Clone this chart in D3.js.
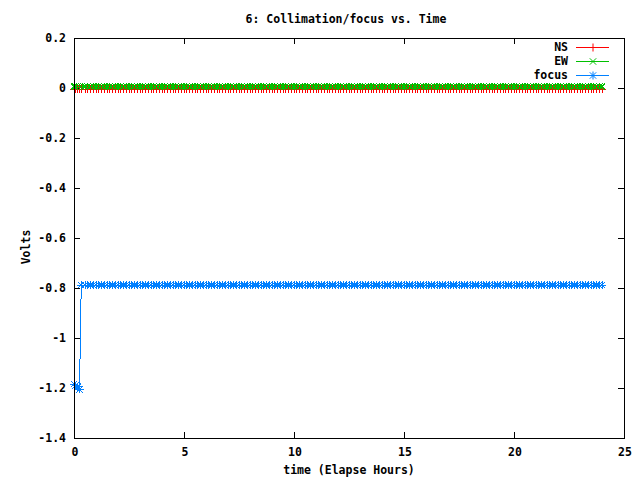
<!DOCTYPE html>
<html>
<head>
<meta charset="utf-8">
<script src="https://cdn.jsdelivr.net/npm/d3@7"></script>
<style>
  body { margin: 0; background: #fff; }
  svg { display: block; }
  text { font-family: "DejaVu Sans Mono", "Liberation Mono", monospace; font-weight: bold; font-size: 11.5px; fill: #000; }
</style>
</head>
<body>
<svg id="chart" width="640" height="480"></svg>
<script>
// elapsed time, hours
const times = [
  0, 0.08, 0.17, 0.25, 0.33, 0.5, 0.625, 0.75, 0.875,
  1, 1.125, 1.25, 1.375, 1.5, 1.625, 1.75, 1.875,
  2, 2.125, 2.25, 2.375, 2.5, 2.625, 2.75, 2.875,
  3, 3.125, 3.25, 3.375, 3.5, 3.625, 3.75, 3.875,
  4, 4.125, 4.25, 4.375, 4.5, 4.625, 4.75, 4.875,
  5, 5.125, 5.25, 5.375, 5.5, 5.625, 5.75, 5.875,
  6, 6.125, 6.25, 6.375, 6.5, 6.625, 6.75, 6.875,
  7, 7.125, 7.25, 7.375, 7.5, 7.625, 7.75, 7.875,
  8, 8.125, 8.25, 8.375, 8.5, 8.625, 8.75, 8.875,
  9, 9.125, 9.25, 9.375, 9.5, 9.625, 9.75, 9.875,
  10, 10.125, 10.25, 10.375, 10.5, 10.625, 10.75, 10.875,
  11, 11.125, 11.25, 11.375, 11.5, 11.625, 11.75, 11.875,
  12, 12.125, 12.25, 12.375, 12.5, 12.625, 12.75, 12.875,
  13, 13.125, 13.25, 13.375, 13.5, 13.625, 13.75, 13.875,
  14, 14.125, 14.25, 14.375, 14.5, 14.625, 14.75, 14.875,
  15, 15.125, 15.25, 15.375, 15.5, 15.625, 15.75, 15.875,
  16, 16.125, 16.25, 16.375, 16.5, 16.625, 16.75, 16.875,
  17, 17.125, 17.25, 17.375, 17.5, 17.625, 17.75, 17.875,
  18, 18.125, 18.25, 18.375, 18.5, 18.625, 18.75, 18.875,
  19, 19.125, 19.25, 19.375, 19.5, 19.625, 19.75, 19.875,
  20, 20.125, 20.25, 20.375, 20.5, 20.625, 20.75, 20.875,
  21, 21.125, 21.25, 21.375, 21.5, 21.625, 21.75, 21.875,
  22, 22.125, 22.25, 22.375, 22.5, 22.625, 22.75, 22.875,
  23, 23.125, 23.25, 23.375, 23.5, 23.625, 23.75, 23.875,
  24
];

const nsVolts = [
  -0.004, -0.004, -0.004, -0.004, -0.004, -0.004, -0.004, -0.004, -0.004,
  -0.004, -0.004, -0.004, -0.004, -0.004, -0.004, -0.004, -0.004,
  -0.004, -0.004, -0.004, -0.004, -0.004, -0.004, -0.004, -0.004,
  -0.004, -0.004, -0.004, -0.004, -0.004, -0.004, -0.004, -0.004,
  -0.004, -0.004, -0.004, -0.004, -0.004, -0.004, -0.004, -0.004,
  -0.004, -0.004, -0.004, -0.004, -0.004, -0.004, -0.004, -0.004,
  -0.004, -0.004, -0.004, -0.004, -0.004, -0.004, -0.004, -0.004,
  -0.004, -0.004, -0.004, -0.004, -0.004, -0.004, -0.004, -0.004,
  -0.004, -0.004, -0.004, -0.004, -0.004, -0.004, -0.004, -0.004,
  -0.004, -0.004, -0.004, -0.004, -0.004, -0.004, -0.004, -0.004,
  -0.004, -0.004, -0.004, -0.004, -0.004, -0.004, -0.004, -0.004,
  -0.004, -0.004, -0.004, -0.004, -0.004, -0.004, -0.004, -0.004,
  -0.004, -0.004, -0.004, -0.004, -0.004, -0.004, -0.004, -0.004,
  -0.004, -0.004, -0.004, -0.004, -0.004, -0.004, -0.004, -0.004,
  -0.004, -0.004, -0.004, -0.004, -0.004, -0.004, -0.004, -0.004,
  -0.004, -0.004, -0.004, -0.004, -0.004, -0.004, -0.004, -0.004,
  -0.004, -0.004, -0.004, -0.004, -0.004, -0.004, -0.004, -0.004,
  -0.004, -0.004, -0.004, -0.004, -0.004, -0.004, -0.004, -0.004,
  -0.004, -0.004, -0.004, -0.004, -0.004, -0.004, -0.004, -0.004,
  -0.004, -0.004, -0.004, -0.004, -0.004, -0.004, -0.004, -0.004,
  -0.004, -0.004, -0.004, -0.004, -0.004, -0.004, -0.004, -0.004,
  -0.004, -0.004, -0.004, -0.004, -0.004, -0.004, -0.004, -0.004,
  -0.004, -0.004, -0.004, -0.004, -0.004, -0.004, -0.004, -0.004,
  -0.004, -0.004, -0.004, -0.004, -0.004, -0.004, -0.004, -0.004,
  -0.004
];

const ewVolts = [
  0.006, 0.006, 0.006, 0.006, 0.006, 0.006, 0.006, 0.006, 0.006,
  0.006, 0.006, 0.006, 0.006, 0.006, 0.006, 0.006, 0.006,
  0.006, 0.006, 0.006, 0.006, 0.006, 0.006, 0.006, 0.006,
  0.006, 0.006, 0.006, 0.006, 0.006, 0.006, 0.006, 0.006,
  0.006, 0.006, 0.006, 0.006, 0.006, 0.006, 0.006, 0.006,
  0.006, 0.006, 0.006, 0.006, 0.006, 0.006, 0.006, 0.006,
  0.006, 0.006, 0.006, 0.006, 0.006, 0.006, 0.006, 0.006,
  0.006, 0.006, 0.006, 0.006, 0.006, 0.006, 0.006, 0.006,
  0.006, 0.006, 0.006, 0.006, 0.006, 0.006, 0.006, 0.006,
  0.006, 0.006, 0.006, 0.006, 0.006, 0.006, 0.006, 0.006,
  0.006, 0.006, 0.006, 0.006, 0.006, 0.006, 0.006, 0.006,
  0.006, 0.006, 0.006, 0.006, 0.006, 0.006, 0.006, 0.006,
  0.006, 0.006, 0.006, 0.006, 0.006, 0.006, 0.006, 0.006,
  0.006, 0.006, 0.006, 0.006, 0.006, 0.006, 0.006, 0.006,
  0.006, 0.006, 0.006, 0.006, 0.006, 0.006, 0.006, 0.006,
  0.006, 0.006, 0.006, 0.006, 0.006, 0.006, 0.006, 0.006,
  0.006, 0.006, 0.006, 0.006, 0.006, 0.006, 0.006, 0.006,
  0.006, 0.006, 0.006, 0.006, 0.006, 0.006, 0.006, 0.006,
  0.006, 0.006, 0.006, 0.006, 0.006, 0.006, 0.006, 0.006,
  0.006, 0.006, 0.006, 0.006, 0.006, 0.006, 0.006, 0.006,
  0.006, 0.006, 0.006, 0.006, 0.006, 0.006, 0.006, 0.006,
  0.006, 0.006, 0.006, 0.006, 0.006, 0.006, 0.006, 0.006,
  0.006, 0.006, 0.006, 0.006, 0.006, 0.006, 0.006, 0.006,
  0.006, 0.006, 0.006, 0.006, 0.006, 0.006, 0.006, 0.006,
  0.006
];

const focusVolts = [
  -1.185, -1.19, -1.195, -1.205, -0.788, -0.788, -0.788, -0.788, -0.788,
  -0.788, -0.788, -0.788, -0.788, -0.788, -0.788, -0.788, -0.788,
  -0.788, -0.788, -0.788, -0.788, -0.788, -0.788, -0.788, -0.788,
  -0.788, -0.788, -0.788, -0.788, -0.788, -0.788, -0.788, -0.788,
  -0.788, -0.788, -0.788, -0.788, -0.788, -0.788, -0.788, -0.788,
  -0.788, -0.788, -0.788, -0.788, -0.788, -0.788, -0.788, -0.788,
  -0.788, -0.788, -0.788, -0.788, -0.788, -0.788, -0.788, -0.788,
  -0.788, -0.788, -0.788, -0.788, -0.788, -0.788, -0.788, -0.788,
  -0.788, -0.788, -0.788, -0.788, -0.788, -0.788, -0.788, -0.788,
  -0.788, -0.788, -0.788, -0.788, -0.788, -0.788, -0.788, -0.788,
  -0.788, -0.788, -0.788, -0.788, -0.788, -0.788, -0.788, -0.788,
  -0.788, -0.788, -0.788, -0.788, -0.788, -0.788, -0.788, -0.788,
  -0.788, -0.788, -0.788, -0.788, -0.788, -0.788, -0.788, -0.788,
  -0.788, -0.788, -0.788, -0.788, -0.788, -0.788, -0.788, -0.788,
  -0.788, -0.788, -0.788, -0.788, -0.788, -0.788, -0.788, -0.788,
  -0.788, -0.788, -0.788, -0.788, -0.788, -0.788, -0.788, -0.788,
  -0.788, -0.788, -0.788, -0.788, -0.788, -0.788, -0.788, -0.788,
  -0.788, -0.788, -0.788, -0.788, -0.788, -0.788, -0.788, -0.788,
  -0.788, -0.788, -0.788, -0.788, -0.788, -0.788, -0.788, -0.788,
  -0.788, -0.788, -0.788, -0.788, -0.788, -0.788, -0.788, -0.788,
  -0.788, -0.788, -0.788, -0.788, -0.788, -0.788, -0.788, -0.788,
  -0.788, -0.788, -0.788, -0.788, -0.788, -0.788, -0.788, -0.788,
  -0.788, -0.788, -0.788, -0.788, -0.788, -0.788, -0.788, -0.788,
  -0.788, -0.788, -0.788, -0.788, -0.788, -0.788, -0.788, -0.788,
  -0.788
];

const seriesNames = ["NS", "EW", "focus"];
const seriesColors = ["#ff0000", "#00c000", "#0080ff"];
const seriesMarkers = ["plus", "cross", "star"];
const xTicks = [0, 5, 10, 15, 20, 25];
const yTicks = [0.2, 0, -0.2, -0.4, -0.6, -0.8, -1, -1.2, -1.4];

const titleText = "6: Collimation/focus vs. Time";
const xLabel = "time (Elapse Hours)";
const yLabel = "Volts";

const svg = d3.select("#chart");
const plotL = 74, plotR = 624, plotT = 38, plotB = 438;

const x = d3.scaleLinear().domain([0, 25]).range([plotL, plotR]);
const y = d3.scaleLinear().domain([-1.4, 0.2]).range([plotB, plotT]);

// marker paths (gnuplot-ish: +, x, *)
function markerPath(type, r) {
  const p = d3.path();
  if (type === "plus" || type === "star") {
    p.moveTo(-r, 0); p.lineTo(r, 0);
    p.moveTo(0, -r); p.lineTo(0, r);
  }
  if (type === "cross" || type === "star") {
    const s = r * 0.8;
    p.moveTo(-s, -s); p.lineTo(s, s);
    p.moveTo(-s, s); p.lineTo(s, -s);
  }
  return p.toString();
}

// ticks (mirrored on all four sides, pointing inward)
const tickLen = 6;
const axes = svg.append("g").attr("shape-rendering", "crispEdges").attr("stroke", "#000");
xTicks.forEach(t => {
  const px = Math.round(x(t)) + 0.5;
  axes.append("line").attr("x1", px).attr("x2", px).attr("y1", plotB).attr("y2", plotB - tickLen);
  axes.append("line").attr("x1", px).attr("x2", px).attr("y1", plotT).attr("y2", plotT + tickLen);
});
yTicks.forEach(t => {
  const py = Math.round(y(t)) + 0.5;
  axes.append("line").attr("x1", plotL).attr("x2", plotL + tickLen).attr("y1", py).attr("y2", py);
  axes.append("line").attr("x1", plotR).attr("x2", plotR - tickLen).attr("y1", py).attr("y2", py);
});

// tick labels
svg.append("g").selectAll("text").data(xTicks).join("text")
  .attr("x", d => x(d) + 1)
  .attr("y", plotB + 18)
  .attr("text-anchor", "middle")
  .text(d => d);

svg.append("g").selectAll("text").data(yTicks).join("text")
  .attr("x", plotL - 8)
  .attr("y", d => y(d) + 4)
  .attr("text-anchor", "end")
  .text(d => String(d));

// series
const allSeries = [nsVolts, ewVolts, focusVolts];
const line = d3.line().x(d => x(d[0])).y(d => y(d[1]));

allSeries.forEach((vals, i) => {
  const pts = times.map((t, j) => [t, vals[j]]);
  const g = svg.append("g").attr("shape-rendering", "crispEdges");
  g.append("path")
    .attr("d", line(pts))
    .attr("fill", "none")
    .attr("stroke", seriesColors[i])
    .attr("stroke-width", 1);
  g.selectAll("path.m").data(pts).join("path")
    .attr("class", "m")
    .attr("transform", d => `translate(${x(d[0])},${y(d[1])})`)
    .attr("d", markerPath(seriesMarkers[i], 4))
    .attr("fill", "none")
    .attr("stroke", seriesColors[i])
    .attr("stroke-width", 1);
});

// frame
svg.append("rect")
  .attr("x", plotL + 0.5).attr("y", plotT + 0.5)
  .attr("width", plotR - plotL).attr("height", plotB - plotT)
  .attr("fill", "none").attr("stroke", "#000")
  .attr("shape-rendering", "crispEdges");

// legend
const legend = svg.append("g");
seriesNames.forEach((name, i) => {
  const ly = 47 + i * 14;
  legend.append("text")
    .attr("x", 568).attr("y", ly + 4)
    .attr("text-anchor", "end")
    .text(name);
  legend.append("line")
    .attr("x1", 576).attr("x2", 609).attr("y1", ly + 0.5).attr("y2", ly + 0.5)
    .attr("stroke", seriesColors[i])
    .attr("shape-rendering", "crispEdges");
  legend.append("path")
    .attr("transform", `translate(593,${ly + 0.5})`)
    .attr("d", markerPath(seriesMarkers[i], 4))
    .attr("fill", "none")
    .attr("stroke", seriesColors[i]);
});

// titles
svg.append("text").attr("x", 346).attr("y", 23).attr("text-anchor", "middle").text(titleText);
svg.append("text").attr("x", 349).attr("y", 474).attr("text-anchor", "middle").text(xLabel);
svg.append("text")
  .attr("transform", "translate(30,247) rotate(-90)")
  .attr("text-anchor", "middle")
  .text(yLabel);
</script>
</body>
</html>
